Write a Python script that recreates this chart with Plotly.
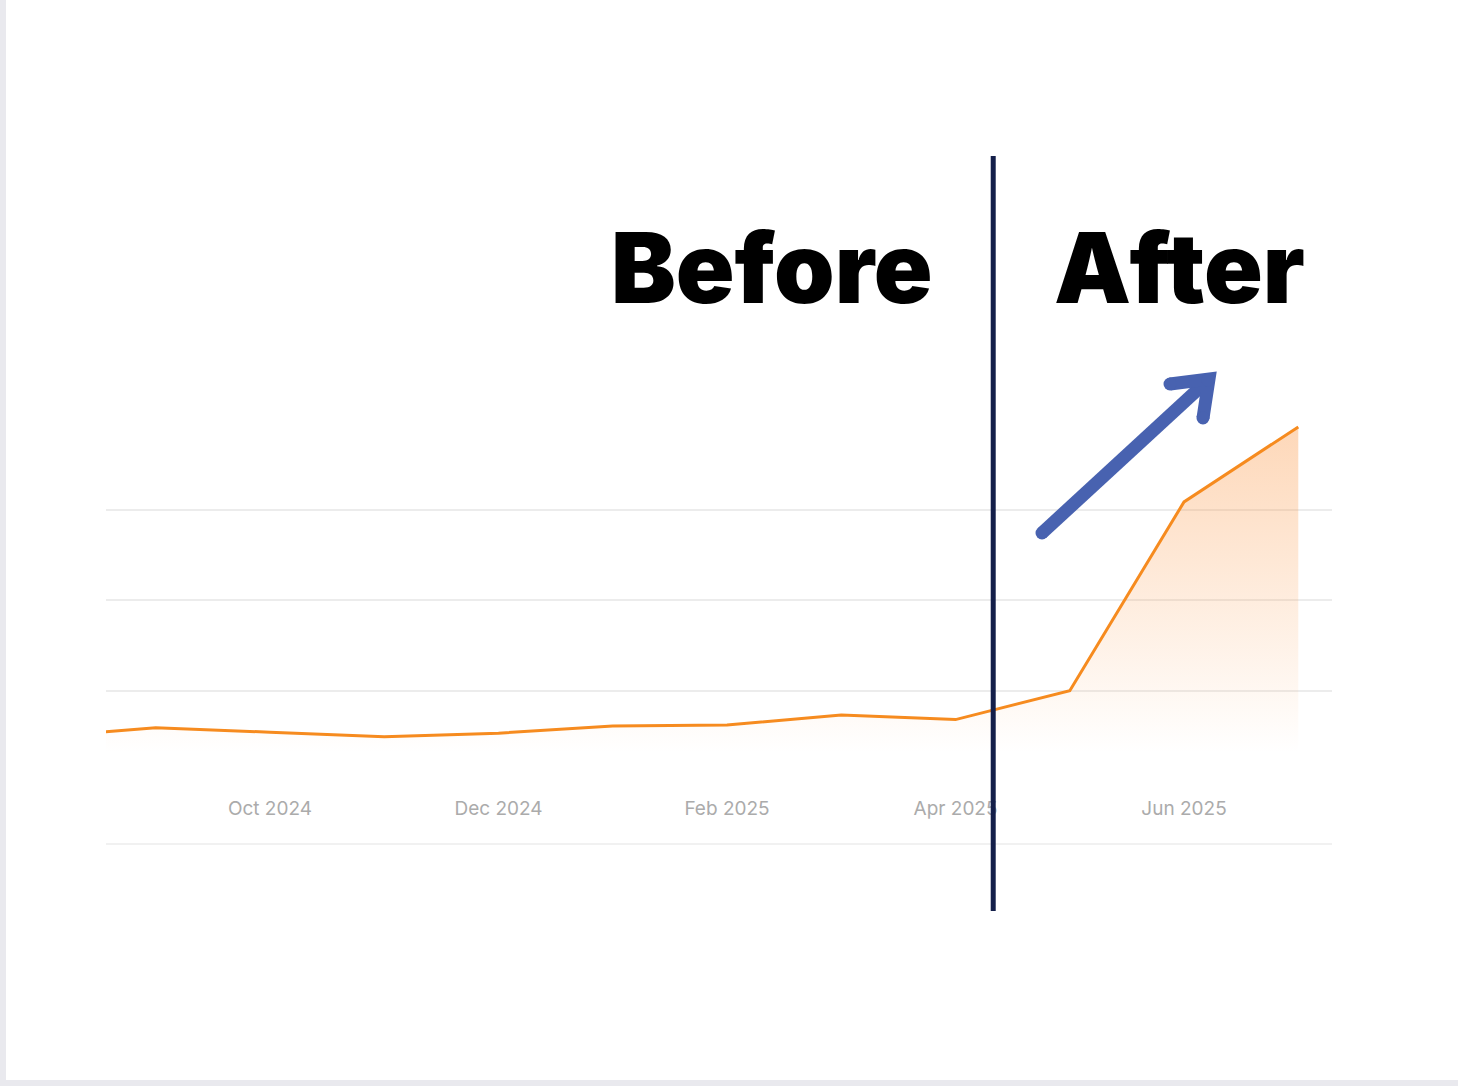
import plotly.graph_objects as go

# monthly values, months evenly spaced on the axis
months = ["2024-08", "2024-09", "2024-10", "2024-11", "2024-12", "2025-01",
          "2025-02", "2025-03", "2025-04", "2025-05", "2025-06", "2025-07"]
values = [0.49, 0.59, 0.54, 0.49, 0.53, 0.61, 0.62, 0.73, 0.68, 1.0, 3.09, 3.92]

tick_months = ["2024-10", "2024-12", "2025-02", "2025-04", "2025-06"]
tick_text = ["Oct 2024", "Dec 2024", "Feb 2025", "Apr 2025", "Jun 2025"]
grid_vals = [0, 1, 2, 3]

split_pos = 8.33  # a little after Apr 2025

W, H = 1458, 1086
L, R, T, B = 106, 126, 60, 305
PW, PH = W - L - R, H - T - B


def px_x(px):
    return (px - L) / PW


def px_y(py):
    return (H - B - py) / PH


fig = go.Figure()
fig.add_trace(go.Scatter(
    x=months, y=values, mode="lines",
    line=dict(color="#f68b1f", width=3),
    fill="tozeroy",
    fillgradient=dict(
        type="vertical", start=0, stop=max(values),
        colorscale=[[0, "rgba(251,146,60,0)"], [0.08, "rgba(251,146,60,0)"],
                    [1, "rgba(251,146,60,0.36)"]],
    ),
    hoverinfo="skip", showlegend=False,
))

BLUE = "#4862b0"


def dot(cx, cy, r=6.5):
    return dict(type="circle", xref="paper", yref="paper",
                x0=px_x(cx - r), x1=px_x(cx + r), y0=px_y(cy + r), y1=px_y(cy - r),
                fillcolor=BLUE, line_width=0, layer="above")


shapes = [
    # card edges
    dict(type="rect", xref="paper", yref="paper", x0=px_x(0), x1=px_x(6),
         y0=px_y(H), y1=px_y(0), fillcolor="#e9e9ee", line_width=0),
    dict(type="rect", xref="paper", yref="paper", x0=px_x(0), x1=px_x(W),
         y0=px_y(H), y1=px_y(1080), fillcolor="#e9e9ee", line_width=0),
    # bottom rule under tick labels
    dict(type="line", xref="paper", yref="paper", x0=0, x1=1,
         y0=px_y(844), y1=px_y(844), line=dict(color="#ececec", width=1.5)),
    # before / after divider
    dict(type="line", xref="x", yref="paper", x0=split_pos, x1=split_pos,
         y0=px_y(911), y1=px_y(156), line=dict(color="#141f4a", width=5),
         layer="above"),
    # arrow shaft and head
    dict(type="path", xref="paper", yref="paper",
         path=f"M {px_x(1042)} {px_y(533)} L {px_x(1206)} {px_y(382)}",
         line=dict(color=BLUE, width=13), layer="above"),
    dict(type="path", xref="paper", yref="paper",
         path=(f"M {px_x(1170)} {px_y(384)} L {px_x(1209)} {px_y(379)} "
               f"L {px_x(1203)} {px_y(418)}"),
         line=dict(color=BLUE, width=13), layer="above"),
    dot(1042, 533), dot(1170, 384), dot(1203, 418), dot(1208, 380),
]

title_font = dict(family="Inter", size=97, color="#000000", weight=900)
annotations = [
    dict(text="Before", xref="paper", yref="paper", x=px_x(772), y=px_y(267),
         xanchor="center", yanchor="middle", showarrow=False, font=title_font),
    dict(text="After", xref="paper", yref="paper", x=px_x(1179), y=px_y(267),
         xanchor="center", yanchor="middle", showarrow=False, font=title_font),
]

fig.update_layout(
    width=W, height=H,
    margin=dict(l=L, r=R, t=T, b=B),
    paper_bgcolor="#ffffff", plot_bgcolor="#ffffff",
    shapes=shapes, annotations=annotations,
    xaxis=dict(
        type="category",
        range=[0.565, 11.295],
        tickvals=tick_months, ticktext=tick_text,
        showgrid=False, zeroline=False, showline=False, ticks="",
        ticklabelstandoff=14,
        tickfont=dict(family="Inter", size=19, color="#ababab"),
    ),
    yaxis=dict(
        range=[0, PH / 90.33],
        tickvals=grid_vals, showticklabels=False,
        showgrid=True, gridcolor="#ececec", gridwidth=1.5,
        zeroline=False, showline=False,
    ),
)

fig.write_html("out.html", config={"displayModeBar": False},
               post_script="document.body.style.margin='0';document.body.style.overflow='hidden';")
